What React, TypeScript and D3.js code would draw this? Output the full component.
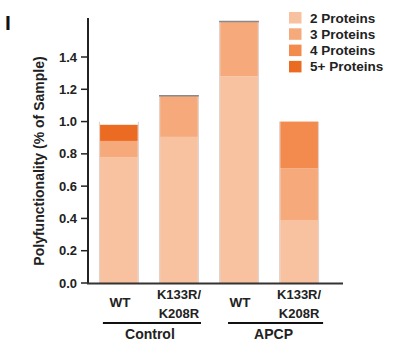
import React from "react";
import * as d3 from "d3";

const categories = ["Control WT", "Control K133R/K208R", "APCP WT", "APCP K133R/K208R"];
const xLabels = [["WT"], ["K133R/", "K208R"], ["WT"], ["K133R/", "K208R"]];
const groups = ["Control", "APCP"];
const seriesNames = ["2 Proteins", "3 Proteins", "4 Proteins", "5+ Proteins"];
const twoProteins = [0.78, 0.905, 1.28, 0.39];
const threeProteins = [0.1, 0.255, 0.34, 0.32];
const fourProteins = [0, 0, 0, 0.29];
const fivePlusProteins = [0.1, 0, 0, 0];
const yTicks = [0, 0.2, 0.4, 0.6, 0.8, 1.0, 1.2, 1.4];
const colors = ["#f8c2a0", "#f6aa7c", "#f38a4e", "#ec6b23"];

export default function App() {
  const W = 394, H = 352;
  const y = d3.scaleLinear().domain([0, 1.4]).range([283, 57]);
  const x = d3.scaleBand<string>().domain(categories).range([100, 318]).paddingInner(0.37).paddingOuter(0);
  const rows = categories.map((c, i) => ({
    cat: c,
    "2 Proteins": twoProteins[i],
    "3 Proteins": threeProteins[i],
    "4 Proteins": fourProteins[i],
    "5+ Proteins": fivePlusProteins[i],
  }));
  const stack = d3.stack<any>().keys(seriesNames)(rows);
  const font = "Arial, 'Liberation Sans', sans-serif";
  const bw = x.bandwidth();
  const groupLines = [
    { name: groups[0], x0: x(categories[0])! + bw / 2 - 16, x1: x(categories[1])! + bw / 2 + 22 },
    { name: groups[1], x0: x(categories[2])! + bw / 2 - 11, x1: x(categories[3])! + bw / 2 + 24 },
  ];
  return (
    <svg width={W} height={H} style={{ position: "absolute", left: 0, top: 0, background: "#fff" }} fontFamily={font}>
      <text x={5} y={30} fontSize={21} fontWeight="bold" fill="#111">I</text>
      {stack.map((s, si) => (
        <g key={si}>
          {s.map((d: any, i: number) =>
            d[1] - d[0] > 0 ? (
              <rect key={i} x={x(categories[i])} y={y(d[1])} width={bw} height={y(d[0]) - y(d[1])} fill={colors[si]} />
            ) : null
          )}
        </g>
      ))}
      {categories.map((c, i) => {
        const total = twoProteins[i] + threeProteins[i] + fourProteins[i] + fivePlusProteins[i];
        const top = y(total);
        return (
          <g key={c} stroke="#e2d3ca" strokeWidth={1.2}>
            <line x1={x(c)! - 0.5} x2={x(c)! - 0.5} y1={i === 0 ? top - 3 : top} y2={283} />
            <line x1={x(c)! + bw + 0.5} x2={x(c)! + bw + 0.5} y1={i === 0 ? top - 3 : top} y2={283} />
            {(i === 1 || i === 2) && <line x1={x(c)! - 1} x2={x(c)! + bw + 1} y1={top} y2={top} stroke="#8a8a8a" strokeWidth={1.5} />}
          </g>
        );
      })}
      <line x1={88} x2={88} y1={18} y2={284} stroke="#222" strokeWidth={2} />
      {yTicks.map((t) => (
        <g key={t}>
          <line x1={81} x2={88} y1={y(t)} y2={y(t)} stroke="#222" strokeWidth={1.5} />
          <text x={77} y={y(t) + 4.5} fontSize={13} fontWeight="bold" textAnchor="end" fill="#222">{t.toFixed(1)}</text>
        </g>
      ))}
      <line x1={87} x2={343} y1={283.5} y2={283.5} stroke="#333" strokeWidth={1.8} />
      <text transform={`translate(44,161) rotate(-90)`} fontSize={14} fontWeight="bold" textAnchor="middle" fill="#222">
        Polyfunctionality (% of Sample)
      </text>
      {categories.map((c, i) => {
        const cx = x(c)! + bw / 2 + (i % 2 === 1 ? 0 : 1);
        const lines = xLabels[i];
        return lines.length === 1 ? (
          <text key={c} x={cx} y={307} fontSize={13.5} fontWeight="bold" textAnchor="middle" fill="#222">{lines[0]}</text>
        ) : (
          <text key={c} fontSize={13} fontWeight="bold" textAnchor="middle" fill="#222">
            <tspan x={cx} y={299}>{lines[0]}</tspan>
            <tspan x={cx} y={318}>{lines[1]}</tspan>
          </text>
        );
      })}
      {groupLines.map((g) => (
        <g key={g.name}>
          <line x1={g.x0} x2={g.x1} y1={323} y2={323} stroke="#111" strokeWidth={2} />
          <text x={(g.x0 + g.x1) / 2 - 2} y={338.5} fontSize={14} fontWeight="bold" textAnchor="middle" fill="#222">{g.name}</text>
        </g>
      ))}
      {seriesNames.map((n, i) => (
        <g key={n}>
          <rect x={289} y={12 + i * 16.3} width={12.5} height={11.5} fill={colors[i]} />
          <text x={310} y={22.5 + i * 16.3} fontSize={13.5} fontWeight="bold" fill="#222">{n}</text>
        </g>
      ))}
    </svg>
  );
}
